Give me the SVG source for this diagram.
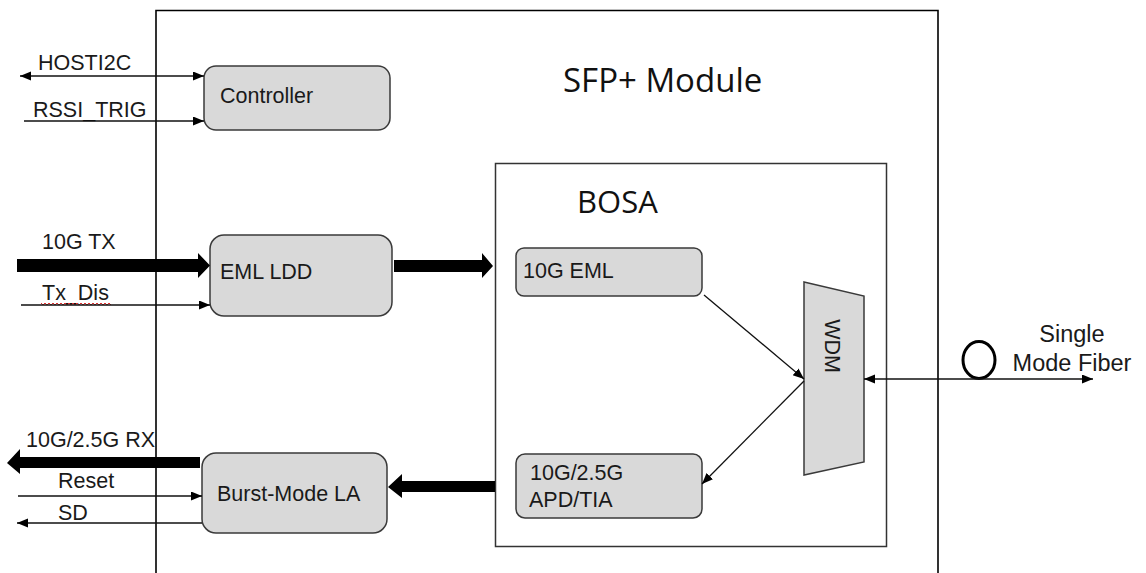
<svg xmlns="http://www.w3.org/2000/svg" width="1146" height="573" viewBox="0 0 1146 573">
<defs>
<style>
.lbl{font-family:"Liberation Sans",Arial,sans-serif;font-size:21.5px;fill:#1a1a1a}
.big{font-family:"Open Sans","Noto Sans",sans-serif;font-size:33px;fill:#111}
.node{fill:#d9d9d9;stroke:#3a3a3a;stroke-width:1.5}
.thin{stroke:#111;stroke-width:1.3;fill:none}
.thick{fill:#000;stroke:none}
</style>
<marker id="ah" markerUnits="userSpaceOnUse" markerWidth="12" markerHeight="10" refX="11" refY="4.5" orient="auto-start-reverse">
<path d="M0,0 L11,4.5 L0,9 z" fill="#000"/>
</marker>
</defs>
<rect width="1146" height="573" fill="#fff"/>

<g id="sfp-module">
<path d="M156,580 L156,10.5 L938,10.5 L938,580" fill="none" stroke="#000" stroke-width="1.6"/>
<text class="big" x="563" y="92">SFP+ Module</text>
</g>

<g id="bosa">
<rect x="495.5" y="163.5" width="391" height="383" fill="none" stroke="#333" stroke-width="1.5"/>
<text class="big" x="577" y="213" style="font-size:31px">BOSA</text>
</g>

<g id="controller">
<rect class="node" x="204" y="66" width="186" height="64" rx="12"/>
<text class="lbl" x="220" y="103">Controller</text>
</g>

<g id="eml-ldd">
<rect class="node" x="210" y="235" width="182" height="81" rx="14"/>
<text class="lbl" x="220" y="279">EML LDD</text>
</g>

<g id="burst-mode-la">
<rect class="node" x="202" y="453" width="185" height="80" rx="14"/>
<text class="lbl" x="217" y="501">Burst-Mode LA</text>
</g>

<g id="eml-10g">
<rect class="node" x="516" y="248" width="186" height="48" rx="8"/>
<text class="lbl" x="523" y="278">10G EML</text>
</g>

<g id="apd-tia">
<rect class="node" x="516" y="454" width="186" height="64" rx="9"/>
<text class="lbl" x="530" y="480">10G/2.5G</text>
<text class="lbl" x="529" y="507">APD/TIA</text>
</g>

<g id="wdm">
<path class="node" d="M804,282 L864,296 L864,462 L804,475 z"/>
<text class="lbl" x="832" y="346" text-anchor="middle" transform="rotate(90 832 346)" dy="7.5">WDM</text>
</g>

<g id="fiber">
<ellipse cx="979" cy="360" rx="16" ry="18.5" fill="none" stroke="#000" stroke-width="3"/>
<text class="lbl" x="1072" y="342" text-anchor="middle" style="font-size:23.5px">Single</text>
<text class="lbl" x="1072" y="371" text-anchor="middle" style="font-size:23.5px">Mode Fiber</text>
</g>

<g id="labels">
<text class="lbl" x="38" y="70">HOSTI2C</text>
<text class="lbl" x="33" y="117">RSSI_TRIG</text>
<text class="lbl" x="42" y="249">10G TX</text>
<text class="lbl" x="42" y="300">Tx_Dis</text>
<polyline points="41,303 43,305 45,303 47,305 49,303 51,305 53,303 55,305 57,303 59,305 61,303 63,305 65,303 67,305 69,303 71,305 73,303 75,305 77,303 79,305 81,303 83,305 85,303 87,305 89,303 91,305 93,303 95,305 97,303 99,305 101,303 103,305 105,303 107,305 109,303 111,305" fill="none" stroke="#e03030" stroke-width="1"/>
<text class="lbl" x="26" y="447">10G/2.5G RX</text>
<text class="lbl" x="58" y="488">Reset</text>
<text class="lbl" x="58" y="520">SD</text>
</g>

<g id="connectors">
<line class="thin" x1="20" y1="76" x2="204" y2="76" marker-start="url(#ah)" marker-end="url(#ah)"/>
<line class="thin" x1="24" y1="121" x2="204" y2="121" marker-end="url(#ah)"/>
<polygon class="thick" points="17,259 198,259 198,253 210,265.5 198,278 198,272 17,272"/>
<line class="thin" x1="21" y1="305" x2="210" y2="305" marker-end="url(#ah)"/>
<polygon class="thick" points="394,260 482,260 482,253 493,266 482,278 482,272 394,272"/>
<polygon class="thick" points="200,457 20,457 20,449 7,463 20,474 20,468 200,468"/>
<line class="thin" x1="18" y1="496" x2="202" y2="496" marker-end="url(#ah)"/>
<line class="thin" x1="202" y1="523" x2="17" y2="523" marker-end="url(#ah)"/>
<polygon class="thick" points="495,481 402,481 402,474 388,487 402,498 402,492 495,492"/>
<line class="thin" x1="704" y1="295" x2="804" y2="379" marker-end="url(#ah)"/>
<line class="thin" x1="804" y1="381" x2="702" y2="484" marker-end="url(#ah)"/>
<line class="thin" x1="864" y1="379" x2="1093" y2="379" marker-start="url(#ah)" marker-end="url(#ah)"/>
</g>
</svg>
